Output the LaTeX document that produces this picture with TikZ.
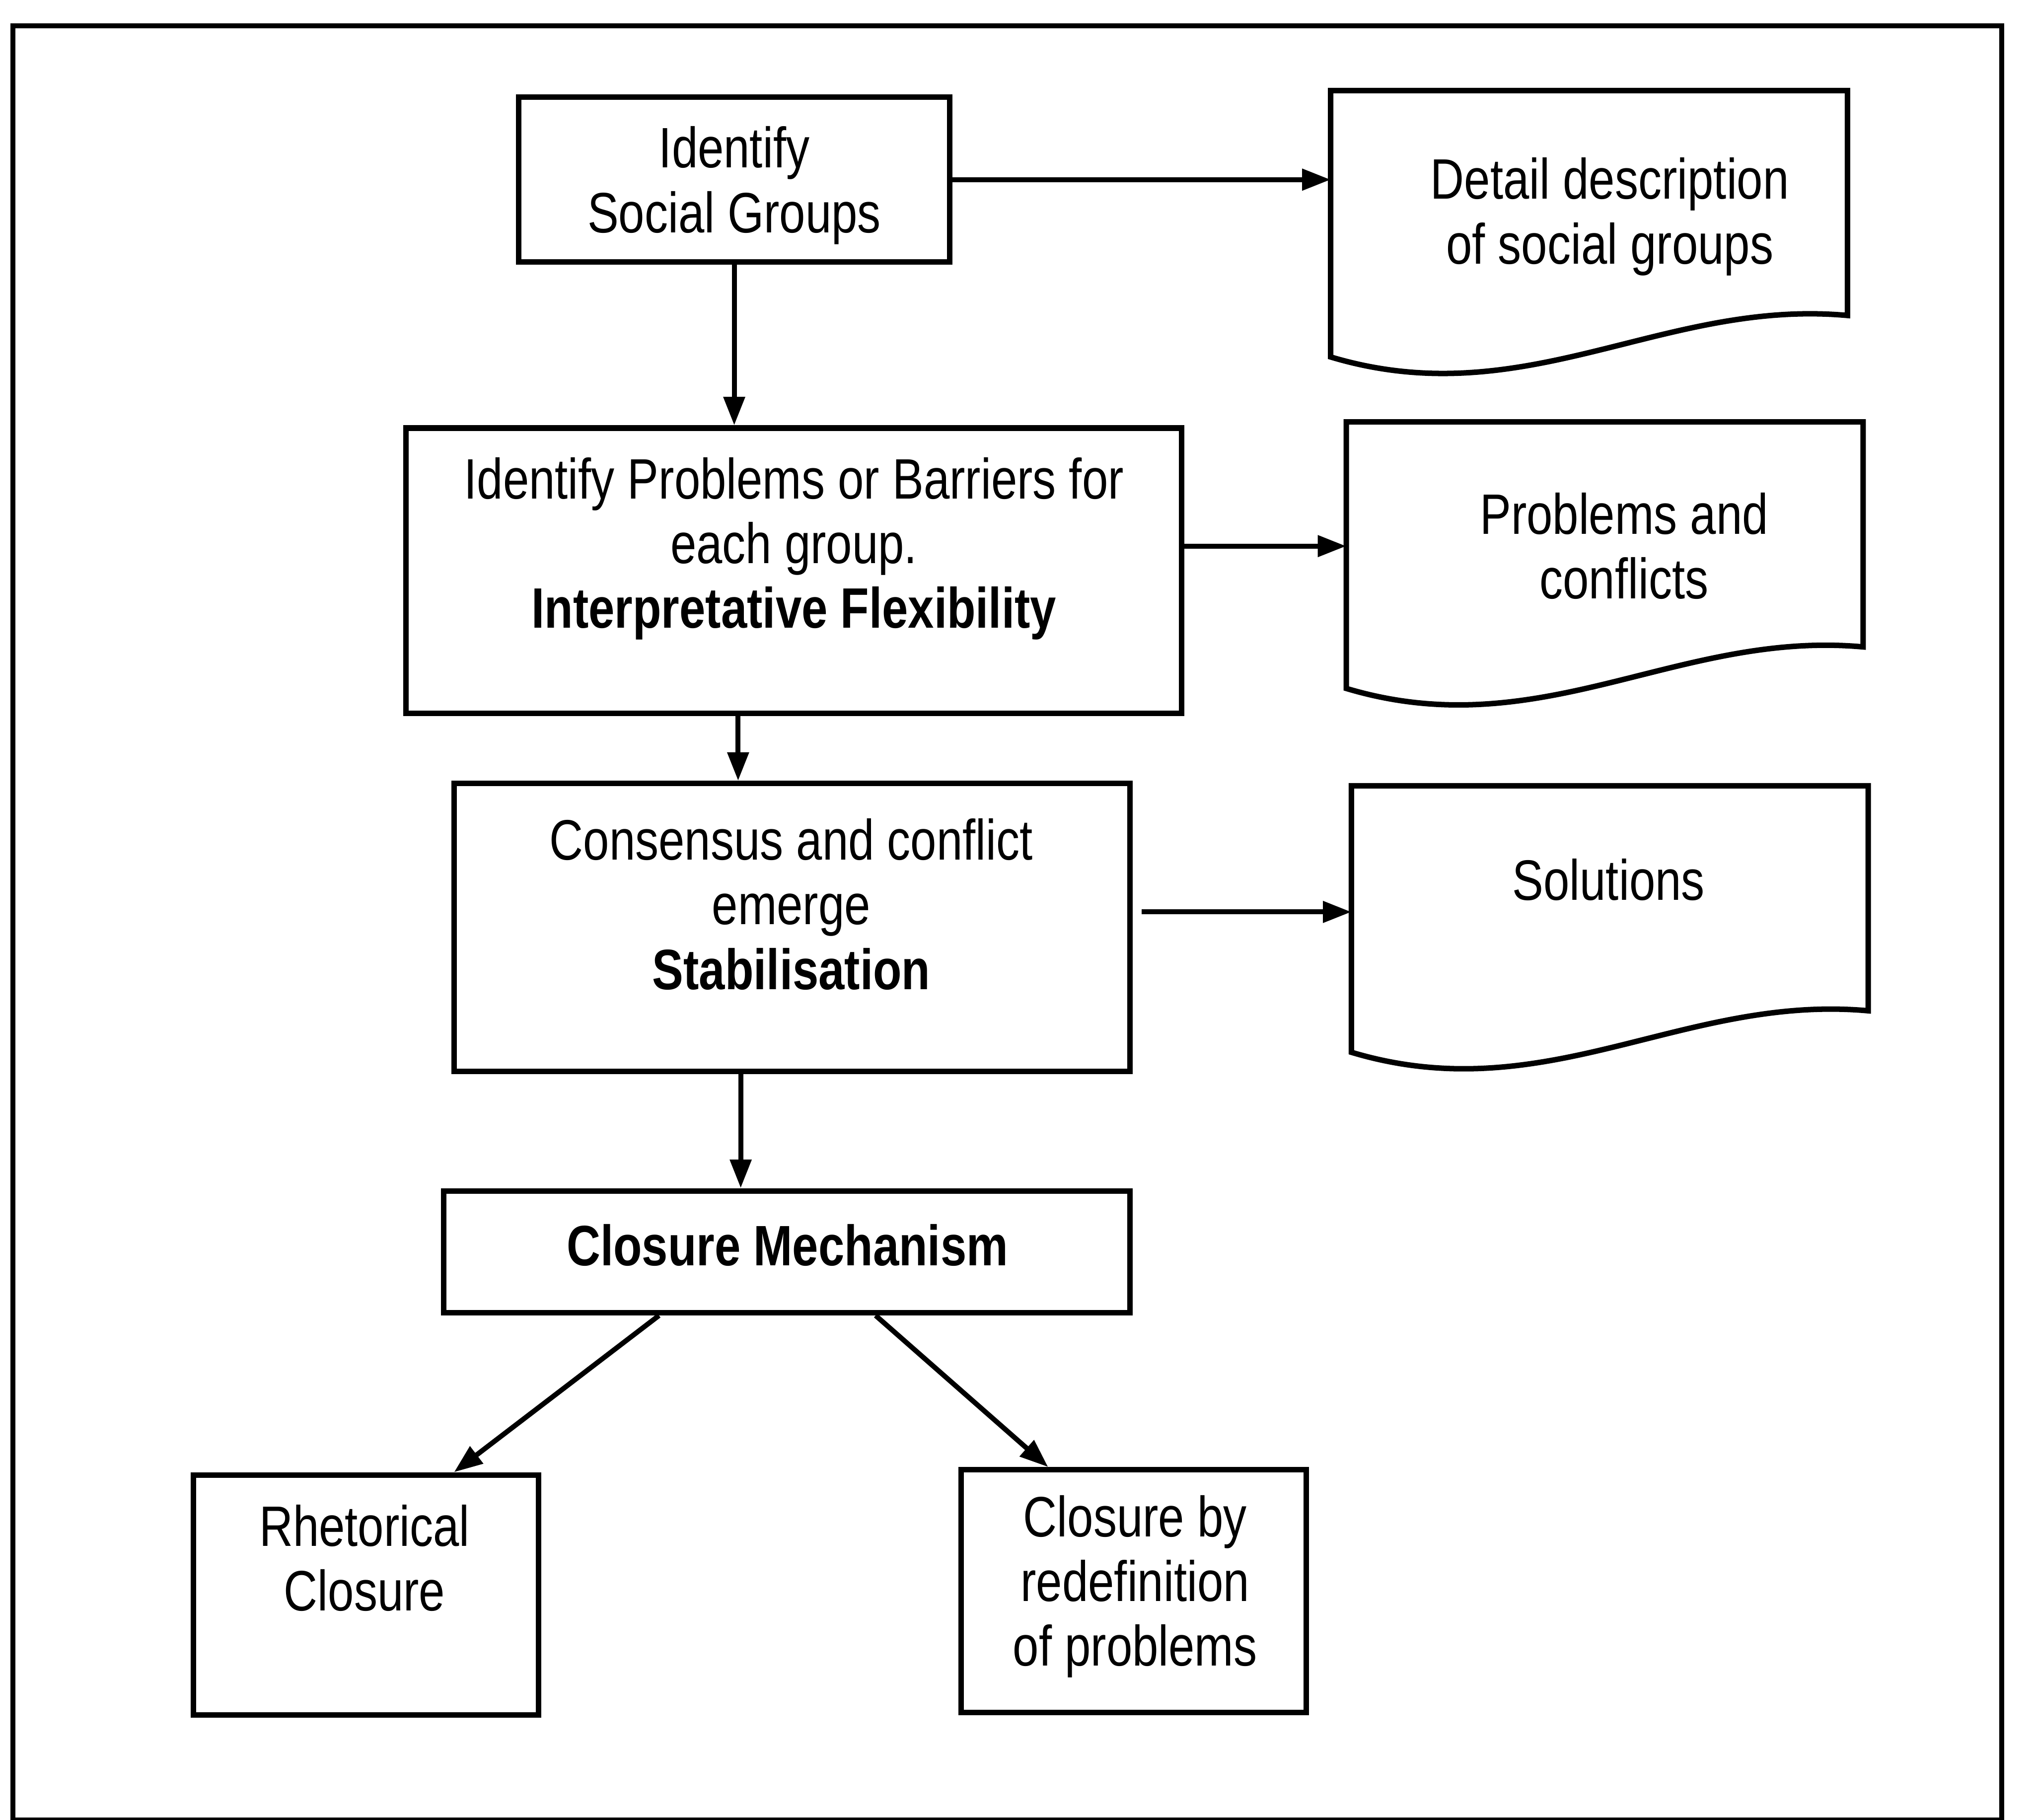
\documentclass[tikz,border=0pt]{standalone}
\usepackage{fontspec}
\setmainfont{Liberation Sans}[FakeStretch=0.82]
\usetikzlibrary{arrows.meta}

% outline of a document shape around an (undrawn) rectangle node
\newcommand{\docoutline}[1]{%
    \draw[line width=1.2pt] (#1.north west) -- (#1.north east) -- (#1.south east)
        .. controls ([xshift=-1.43cm, yshift=0.13cm]#1.south east) and ([xshift=1.5cm, yshift=-0.77cm]#1.south west)
        .. ([yshift=-0.32cm]#1.south west) -- cycle;}

\begin{document}
\begin{tikzpicture}[
        box/.style={draw, shape=rectangle, line width=1.2pt},
        doc/.style={shape=rectangle, minimum width=\docwidth, minimum height=\docheight},
        txt/.style={align=center, font=\fontsize{12.5}{14.2}\selectfont},
        flow/.style={line width=1.1pt, -{Triangle[length=2.2mm, width=1.6mm]}}
    ]
            \def\docwidth{3.97cm}
            \def\docheight{1.72cm}
            \def\smallwidth{2.66cm}
            \useasboundingbox (0, 0) rectangle (15.68, 14.03);
            \draw[line width=1.1pt] (0.10, 0) rectangle (15.43, 13.83);
            % left column
            \node[box, minimum width=3.32cm, minimum height=1.27cm] (groups) at (5.66, 12.645) {};
            \node[txt] (groupstext) at (5.66, 12.60) {Identify\\Social Groups};
            \node[box, minimum width=5.98cm, minimum height=2.20cm] (problems) at (6.12, 9.63) {};
            \node[txt] (problemstext) at (6.12, 9.80) {Identify Problems or Barriers for\\each group.\\\textbf{Interpretative Flexibility}};
            \node[box, minimum width=5.21cm, minimum height=2.22cm] (consensus) at (6.105, 6.88) {};
            \node[txt] (consensustext) at (6.10, 7.06) {Consensus and conflict\\emerge\\\textbf{Stabilisation}};
            \node[box, minimum width=5.29cm, minimum height=0.94cm] (closure) at (6.065, 4.38) {};
            \node[txt] (closuretext) at (6.07, 4.43) {\textbf{Closure Mechanism}};
            \node[box, minimum width=\smallwidth, minimum height=1.85cm] (rhetoric) at (2.82, 1.735) {};
            \node[txt] (rhetorictext) at (2.81, 2.02) {Rhetorical\\Closure};
            \node[box, minimum width=\smallwidth, minimum height=1.87cm] (redef) at (8.74, 1.765) {};
            \node[txt] (redeftext) at (8.75, 1.80) {Closure by\\redefinition\\of problems};
            % right column
            \node[doc] (descr) at (12.25, 12.465) {};
            \docoutline{descr}
            \node[txt] (descrtext) at (12.41, 12.36) {Detail description\\of social groups};
            \node[doc] (conflicts) at (12.37, 9.91) {};
            \docoutline{conflicts}
            \node[txt] (conflictstext) at (12.52, 9.82) {Problems and\\conflicts};
            \node[doc] (solutions) at (12.41, 7.105) {};
            \docoutline{solutions}
            \node[txt] (solutionstext) at (12.40, 7.25) {Solutions};
            % arrows
            \coordinate (a2) at ([xshift=-0.43cm]problems.south);
            \coordinate (a3) at ([xshift=-0.395cm]consensus.south);
            \coordinate (s3) at ([shift={(0.07, 0.12)}]consensus.east);
            \draw[flow] (groups.south) -- (groups.south |- problems.north);
            \draw[flow] (groups.east) -- (groups.east -| descr.west);
            \draw[flow] (problems.east |- conflictstext) -- (conflicts.west |- conflictstext);
            \draw[flow] (a2) -- (a2 |- consensus.north);
            \draw[flow] (s3) -- (s3 -| solutions.west);
            \draw[flow] (a3) -- (a3 |- closure.north);
            \draw[flow] ([xshift=-0.985cm]closure.south) -- ([xshift=0.68cm]rhetoric.north);
            \draw[flow] ([xshift=0.685cm]closure.south) -- ([xshift=-0.66cm]redef.north);
        \end{tikzpicture}
\end{document}
